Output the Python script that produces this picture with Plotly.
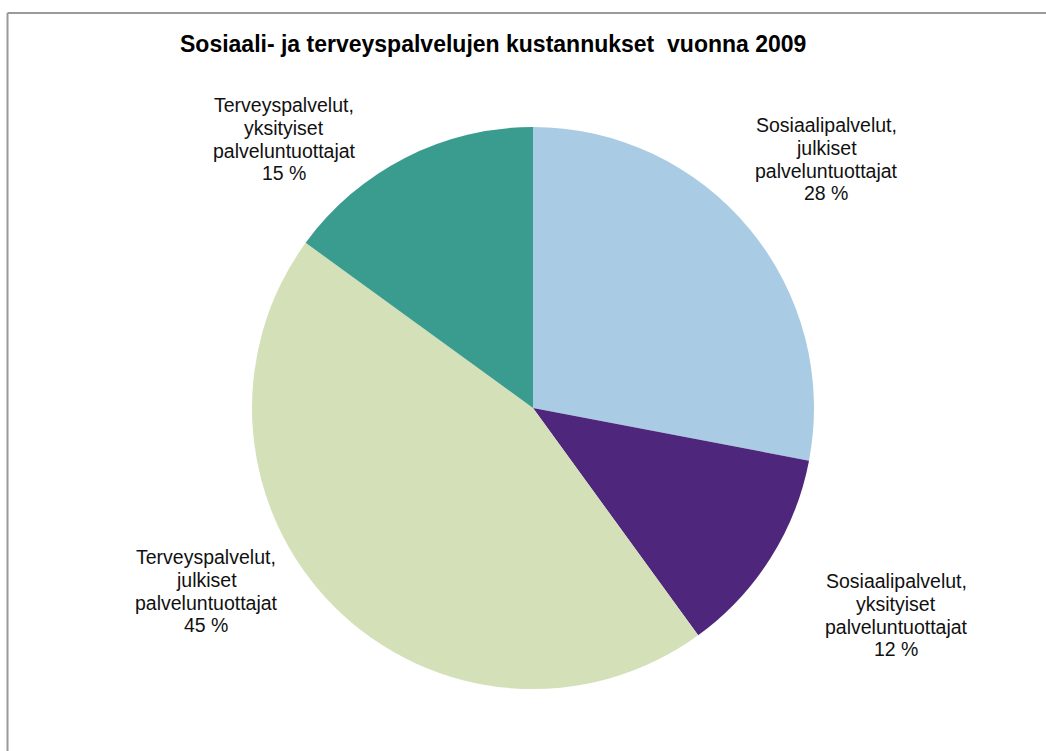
import plotly.graph_objects as go

# Cost shares of social and health services, 2009 (percent)
labels = [
    "Sosiaalipalvelut,\njulkiset\npalveluntuottajat",
    "Sosiaalipalvelut,\nyksityiset\npalveluntuottajat",
    "Terveyspalvelut,\njulkiset\npalveluntuottajat",
    "Terveyspalvelut,\nyksityiset\npalveluntuottajat",
]
values = [28, 12, 45, 15]
colors = ["#A9CCE4", "#4E267B", "#D3E0B8", "#3A9C8E"]
title_text = "Sosiaali- ja terveyspalvelujen kustannukset  vuonna 2009"

W, H = 1046, 751
FONT = "Arial, Liberation Sans, sans-serif"


def px(x):
    return x / W


def py(y):
    return 1 - y / H


# pie centre and radius in pixels
cx, cy, r = 533, 408, 281

fig = go.Figure(
    go.Pie(
        labels=[l.replace("\n", " ") for l in labels],
        values=values,
        sort=False,
        direction="clockwise",
        rotation=0,
        marker=dict(colors=colors, line=dict(width=0)),
        textinfo="none",
        hoverinfo="skip",
        showlegend=False,
        domain=dict(x=[px(cx - r), px(cx + r)], y=[py(cy + r), py(cy - r)]),
    )
)

# label block positions (centre x, centre of first line y)
label_pos = [(826, 124), (896, 580), (206, 556), (284, 104)]
line_gap = 22.8

annotations = []
for text, val, (lx, ly) in zip(labels, values, label_pos):
    lines = text.split("\n") + [f"{val} %"]
    for i, line in enumerate(lines):
        annotations.append(
            dict(
                x=px(lx), y=py(ly + i * line_gap + 1),
                xref="paper", yref="paper",
                text=line, showarrow=False,
                xanchor="center", yanchor="middle",
                font=dict(family=FONT, size=19.5, color="#111111"),
            )
        )

annotations.append(
    dict(
        x=px(492.5), y=py(44),
        xref="paper", yref="paper",
        text=f"<b>{title_text}</b>", showarrow=False,
        xanchor="center", yanchor="middle",
        font=dict(family=FONT, size=23, color="#000000"),
    )
)

# chart-area frame (top and left edges)
frame = dict(color="#9a9a9a", width=2)
shapes = [
    dict(type="line", xref="paper", yref="paper",
         x0=px(7.5), y0=py(13), x1=1.0, y1=py(13), line=frame),
    dict(type="line", xref="paper", yref="paper",
         x0=px(7.5), y0=py(13), x1=px(7.5), y1=0.0, line=frame),
]

fig.update_layout(
    width=W, height=H,
    margin=dict(l=0, r=0, t=0, b=0),
    paper_bgcolor="white",
    plot_bgcolor="white",
    annotations=annotations,
    shapes=shapes,
)

fig.write_html("out.html", config={"displayModeBar": False})
